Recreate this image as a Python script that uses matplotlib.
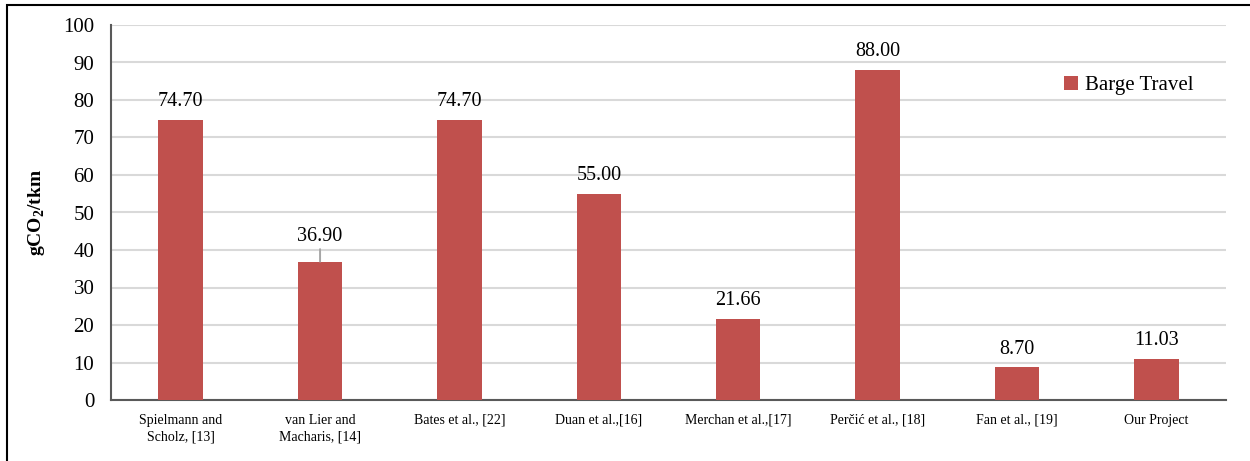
import matplotlib
matplotlib.use("Agg")
import matplotlib.pyplot as plt
from matplotlib.patches import Rectangle

categories = [
    "Spielmann and\nScholz, [13]",
    "van Lier and\nMacharis, [14]",
    "Bates et al., [22]",
    "Duan et al.,[16]",
    "Merchan et al.,[17]",
    "Perčić et al., [18]",
    "Fan et al., [19]",
    "Our Project",
]
barge_travel = [74.70, 36.90, 74.70, 55.00, 21.66, 88.00, 8.70, 11.03]
series_name = "Barge Travel"
y_ticks = [0, 10, 20, 30, 40, 50, 60, 70, 80, 90, 100]

plt.rcParams["font.family"] = ["Liberation Serif", "DejaVu Serif"]
plt.rcParams["mathtext.fontset"] = "custom"
plt.rcParams["mathtext.rm"] = "Liberation Serif"
plt.rcParams["mathtext.bf"] = "Liberation Serif:bold"

W, H = 1250, 461
fig = plt.figure(figsize=(W / 100, H / 100), dpi=100)
ax = fig.add_axes([111 / W, (H - 400) / H, (1226 - 111) / W, (400 - 25) / H])

bar_color = "#C0504D"
x = list(range(len(categories)))
bars = ax.bar(x, barge_travel, width=0.32, color=bar_color, label=series_name, zorder=3)

ax.set_xlim(-0.5, len(categories) - 0.5)
ax.set_ylim(0, 100)
ax.set_yticks(y_ticks)
ax.set_yticklabels([str(t) for t in y_ticks], fontsize=15)
ax.set_xticks(x)
ax.set_xticklabels(categories, fontsize=10, linespacing=1.4)
ax.tick_params(axis="both", length=0, colors="black")
ax.tick_params(axis="y", pad=12)
ax.tick_params(axis="x", pad=10)

ax.grid(axis="y", color="#d9d9d9", linewidth=1.5, zorder=0)
ax.set_axisbelow(True)
for side in ("top", "right"):
    ax.spines[side].set_visible(False)
for side in ("left", "bottom"):
    ax.spines[side].set_color("#595959")
    ax.spines[side].set_linewidth(1.5)

ax.set_ylabel(r"gCO$_\mathbf{2}$/tkm", fontsize=14, fontweight="bold", labelpad=12)

# value labels above each bar; the second one is lifted with a leader line
for xi, v in zip(x, barge_travel):
    if xi == 1:
        ax.annotate(f"{v:.2f}", xy=(xi, v), xytext=(xi, v + 6.6),
                    ha="center", va="center", fontsize=14.5,
                    arrowprops=dict(arrowstyle="-", color="#a6a6a6", lw=1.4,
                                    shrinkA=0, shrinkB=0))
    else:
        ax.text(xi, v + 4.9, f"{v:.2f}", ha="center", va="center", fontsize=14.5)

ax.legend(loc="upper left", bbox_to_anchor=(1045 / W, (H - 57) / H),
          bbox_transform=fig.transFigure, frameon=False, fontsize=15,
          handlelength=0.7, handleheight=0.7, handletextpad=0.3)

# outer frame around the chart area
fig.patches.append(Rectangle((7 / W, -0.1), 2.0, (H - 5) / H + 0.1,
                             transform=fig.transFigure, fill=False,
                             edgecolor="black", linewidth=1.5))

fig.savefig("out.png", dpi=100)
